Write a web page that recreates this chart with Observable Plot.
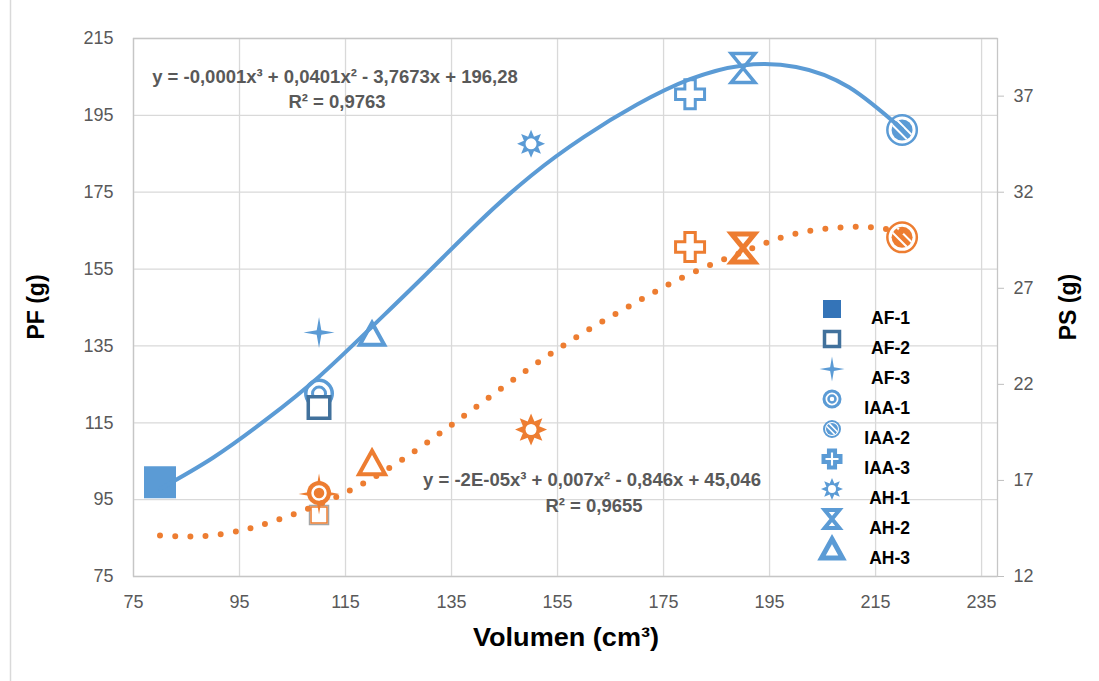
<!DOCTYPE html>
<html><head><meta charset="utf-8">
<script src="https://cdn.jsdelivr.net/npm/d3@7"></script>
<script src="https://cdn.jsdelivr.net/npm/@observablehq/plot@0.6"></script>
<style>body{margin:0;background:#fff;}</style>
</head><body><div id="chart"></div>
<script>
// ---- data ----
const labels  = ["AF-1","AF-2","AF-3","IAA-1","IAA-2","IAA-3","AH-1","AH-2","AH-3"];
const volumen = [80, 110, 110, 110, 220, 180, 150, 190, 120];
const pf      = [99.5, 119.0, 138.5, 122.6, 191.2, 200.5, 187.6, 207.3, 138.0];
const ps      = [null, 15.2, 16.3, 16.35, 29.65, 29.15, 19.65, 29.1, 17.9];

// trendline curves
const trendXPF = [80, 90, 100, 110, 120, 130, 140, 150, 160, 170, 180, 190, 200, 210, 220];
const trendPF  = [97.8, 105.9, 115.8, 127.0, 140.0, 153.4, 167.0, 179.3, 189.4, 197.8, 204.4, 208.0, 207.6, 202.3, 191.4];
const trendXPS = [80, 85, 90, 95, 100, 110, 120, 130, 140, 150, 160, 170, 180, 190, 195, 200, 205, 210, 215, 220];
const trendPS  = [14.13, 14.08, 14.15, 14.38, 14.75, 15.75, 17.1, 18.9, 20.9, 22.9, 24.7, 26.3, 27.75, 28.9, 29.43, 29.85, 30.08, 30.19, 30.15, 29.95];

const xTicks  = [75, 95, 115, 135, 155, 175, 195, 215, 235];
const pfTicks = [75, 95, 115, 135, 155, 175, 195, 215];
const psTicks = [12, 17, 22, 27, 32, 37];
const pfDomain = [75, 215];
const psDomain = [12, 40];
const xDomain = [75, 238];

const eqPF = ["y = -0,0001x³ + 0,0401x² - 3,7673x + 196,28", "R² = 0,9763"];
const eqPS = ["y = -2E-05x³ + 0,007x² - 0,846x + 45,046", "R² = 0,9655"];

// ---- helpers ----
const BLUE = "#5b9bd5", ORANGE = "#ed7d31", DARKBLUE = "#41719c";
// secondary axis: map PS domain onto PF domain
const toLeft = v => pfDomain[0] + (v - psDomain[0]) * (pfDomain[1] - pfDomain[0]) / (psDomain[1] - psDomain[0]);
const fromLeft = v => psDomain[0] + (v - pfDomain[0]) * (psDomain[1] - psDomain[0]) / (pfDomain[1] - pfDomain[0]);

const rows = labels.map((label, i) => ({label, vol: volumen[i], pf: pf[i], ps: ps[i]}));
const tB = trendXPF.map((x, i) => ({x, y: trendPF[i]}));
const tO = trendXPS.map((x, i) => ({x, y: toLeft(trendPS[i])}));

const Rad = s => Math.sqrt(s / Math.PI);
const sym = {
  square: {draw(c, s){const r = Rad(s); c.rect(-r, -r, 2*r, 2*r);}},
  circle: {draw(c, s){const r = Rad(s); c.moveTo(r, 0); c.arc(0, 0, r, 0, 2*Math.PI); c.closePath();}},
  star4: {draw(c, s){const r = Rad(s), k = r*0.15;
    c.moveTo(0,-r); c.lineTo(k,-k); c.lineTo(r,0); c.lineTo(k,k); c.lineTo(0,r); c.lineTo(-k,k); c.lineTo(-r,0); c.lineTo(-k,-k); c.closePath();}},
  cross: {draw(c, s){const r = Rad(s), w = r*0.36;
    const p = [[-w,-r],[w,-r],[w,-w],[r,-w],[r,w],[w,w],[w,r],[-w,r],[-w,w],[-r,w],[-r,-w],[-w,-w]];
    c.moveTo(p[0][0], p[0][1]); for (const q of p.slice(1)) c.lineTo(q[0], q[1]); c.closePath();}},
  sun: {draw(c, s){const r = Rad(s);
    for (let i = 0; i < 16; i++){const a = i*Math.PI/8 - Math.PI/2, rr = i % 2 ? r*0.55 : r;
      const x = rr*Math.cos(a), y = rr*Math.sin(a); if (i) c.lineTo(x, y); else c.moveTo(x, y);} c.closePath();}},
  hourglass: {draw(c, s){const r = Rad(s), w = r*0.82;
    c.moveTo(-w,-r); c.lineTo(w,-r); c.lineTo(-w,r); c.lineTo(w,r); c.closePath();}},
  triangle: {draw(c, s){const r = Rad(s); c.moveTo(0,-0.95*r); c.lineTo(r,0.85*r); c.lineTo(-r,0.85*r); c.closePath();}},
  slash: {draw(c, s){const r = Rad(s);
    for (const d of [-0.32*r, 0.32*r]){const h = Math.sqrt(r*r - d*d), nx = d/Math.SQRT2, ny = -d/Math.SQRT2, u = 1/Math.SQRT2;
      c.moveTo(nx - h*u, ny - h*u); c.lineTo(nx + h*u, ny + h*u);}}}
};

function styles(C, main){
  return {
    "AF-1": [{s:"square", r:16, fill:C}],
    "AF-2": main === "orange"
      ? [{s:"square", r:9.5, fill:"#fff", stroke:"#a5a5a5", sw:1.5}, {s:"square", r:8, fill:"none", stroke:C, sw:1.5}]
      : [{s:"square", r:10.75, fill:"#fff", stroke:DARKBLUE, sw:3.5}],
    "AF-3": [{s:"star4", r: main === "orange" ? 20.5 : 15.5, fill:C}],
    "IAA-1": main === "orange"
      ? [{s:"circle", r:12, fill:C}, {s:"circle", r:6.5, fill:"none", stroke:"#fff", sw:2.5}]
      : [{s:"circle", r:13.25, fill:"#fff", stroke:C, sw:3.5}, {s:"circle", r:6.5, fill:"#fff", stroke:C, sw:3}],
    "IAA-2": [{s:"circle", r:14.75, fill:"#fff", stroke:C, sw:2.5}, {s:"circle", r:10.5, fill:C}, {s:"slash", r:10.5, fill:"none", stroke:"#fff", sw:2}],
    "IAA-3": [{s:"cross", r:14.5, fill:"#fff", stroke:C, sw:3}],
    "AH-1": [{s:"sun", r: main === "orange" ? 16 : 14, fill:C}, {s:"circle", r:5.5, fill:"#fff"}],
    "AH-2": main === "orange"
      ? [{s:"hourglass", r:14, fill:"#fff", stroke:C, sw:5}]
      : [{s:"hourglass", r:14.5, fill:"#fff", stroke:C, sw:3.5}],
    "AH-3": [{s:"triangle", r: main === "orange" ? 13 : 12.2, fill:"#fff", stroke:C, sw:4}]
  };
}

function markerMarks(order, st, yAcc){
  const out = [];
  for (const label of order){
    const d = rows.filter(r => r.label === label && r[yAcc.key] != null);
    if (!d.length || !st[label]) continue;
    for (const l of st[label]){
      out.push(Plot.dot(d, {x: "vol", y: yAcc.fn, symbol: sym[l.s], r: l.r,
        fill: l.fill ?? "none", stroke: l.stroke ?? "none", strokeWidth: l.sw ?? 0, strokeLinejoin: "miter"}));
    }
  }
  return out;
}

const blueOrder = ["AF-1","IAA-1","AF-2","AF-3","IAA-2","IAA-3","AH-1","AH-2","AH-3"];
const orangeOrder = ["AF-2","AF-3","IAA-1","IAA-2","IAA-3","AH-1","AH-2","AH-3"];

const chart = Plot.plot({
  width: 1099, height: 681,
  marginLeft: 133, marginRight: 102, marginTop: 38, marginBottom: 105,
  style: {fontFamily: "'Liberation Sans', Arial, sans-serif", fontSize: "18px", color: "#595959", background: "#fff", overflow: "visible"},
  x: {domain: xDomain},
  y: {domain: pfDomain},
  marks: [
    Plot.gridX({ticks: xTicks, stroke: "#d9d9d9", strokeOpacity: 1, strokeWidth: 1.3}),
    Plot.gridY({ticks: pfTicks, stroke: "#d9d9d9", strokeOpacity: 1, strokeWidth: 1.3}),
    Plot.frame({stroke: "#c6c6c6", strokeWidth: 1.3}),
    Plot.axisX({ticks: xTicks, tickSize: 0, tickPadding: 19, label: null}),
    Plot.axisY({ticks: pfTicks, tickSize: 0, tickPadding: 20, label: null}),
    Plot.axisY({anchor: "right", ticks: psTicks.map(toLeft), tickFormat: d => String(Math.round(fromLeft(d))),
      tickSize: 6, tickPadding: 10, stroke: "#bfbfbf", label: null}),
    ...markerMarks(orangeOrder, styles(ORANGE, "orange"), {key: "ps", fn: d => toLeft(d.ps)}),
    ...markerMarks(blueOrder, styles(BLUE, "blue"), {key: "pf", fn: "pf"}),
    Plot.line(tB, {x: "x", y: "y", stroke: BLUE, strokeWidth: 4, curve: "natural"}),
    Plot.line(tO, {x: "x", y: "y", stroke: ORANGE, strokeWidth: 6, strokeDasharray: "0 15.2", strokeLinecap: "round", curve: "natural"})
  ]
});
document.getElementById("chart").appendChild(chart);

// ---- annotations, titles, legend ----
const svg = d3.select(chart);
const FONT = "'Liberation Sans', Arial, sans-serif";

svg.insert("line", ":first-child").attr("x1", 10.5).attr("x2", 10.5).attr("y1", 0).attr("y2", 681)
  .attr("stroke", "#d9d9d9").attr("stroke-width", 1.5);

function addText(txt, x, y, opts = {}){
  const t = svg.append("text").attr("x", x).attr("y", y).text(txt)
    .attr("font-family", FONT).attr("font-weight", opts.weight ?? "bold")
    .attr("font-size", opts.size ?? 18).attr("fill", opts.fill ?? "#000")
    .attr("text-anchor", opts.anchor ?? "middle").attr("dominant-baseline", "central");
  if (opts.rotate) t.attr("transform", `rotate(-90 ${x} ${y})`);
  if (opts.len) t.attr("textLength", opts.len).attr("lengthAdjust", "spacingAndGlyphs");
  return t;
}

addText(eqPF[0], 335, 76, {fill: "#595959", size: 18.5});
addText(eqPF[1], 337, 101, {fill: "#595959", size: 18.5});
addText(eqPS[0], 592, 479, {fill: "#595959", size: 18.5});
addText(eqPS[1], 594, 505, {fill: "#595959", size: 18.5});

addText("PF (g)", 36, 307, {size: 23, rotate: true});
addText("PS (g)", 1068, 307, {size: 23, rotate: true});
addText("Volumen (cm³)", 566, 637, {size: 25, len: 186});

const legendStyles = {
  "AF-1": [{s:"square", r:9, fill:"#3474b8"}],
  "AF-2": [{s:"square", r:7.5, fill:"#fff", stroke:DARKBLUE, sw:3.5}],
  "AF-3": [{s:"star4", r:12.5, fill:BLUE}],
  "IAA-1": [{s:"circle", r:8, fill:"#fff", stroke:BLUE, sw:3}, {s:"circle", r:3.5, fill:"#fff", stroke:BLUE, sw:2.5}],
  "IAA-2": [{s:"circle", r:8, fill:"#fff", stroke:BLUE, sw:2}, {s:"circle", r:6, fill:BLUE}, {s:"slash", r:6, fill:"none", stroke:"#fff", sw:1.5}],
  "IAA-3": [{s:"cross", r:8.5, fill:"#fff", stroke:BLUE, sw:4}],
  "AH-1": [{s:"sun", r:11, fill:BLUE}, {s:"circle", r:4, fill:"#fff"}],
  "AH-2": [{s:"hourglass", r:9, fill:"#fff", stroke:BLUE, sw:4}],
  "AH-3": [{s:"triangle", r:10.5, fill:"#fff", stroke:BLUE, sw:5}]
};
const lg = svg.append("g");
labels.forEach((label, i) => {
  const my = 309 + 30*i;
  for (const l of legendStyles[label]){
    lg.append("path").attr("transform", `translate(832,${my})`)
      .attr("d", d3.symbol(sym[l.s], Math.PI*l.r*l.r)())
      .attr("fill", l.fill ?? "none").attr("stroke", l.stroke ?? "none").attr("stroke-width", l.sw ?? 0);
  }
  lg.append("text").attr("x", 910).attr("y", 318 + 30*i).text(label)
    .attr("font-family", FONT).attr("font-weight", "bold").attr("font-size", 17.5)
    .attr("fill", "#000").attr("text-anchor", "end").attr("dominant-baseline", "central");
});
</script>
</body></html>
